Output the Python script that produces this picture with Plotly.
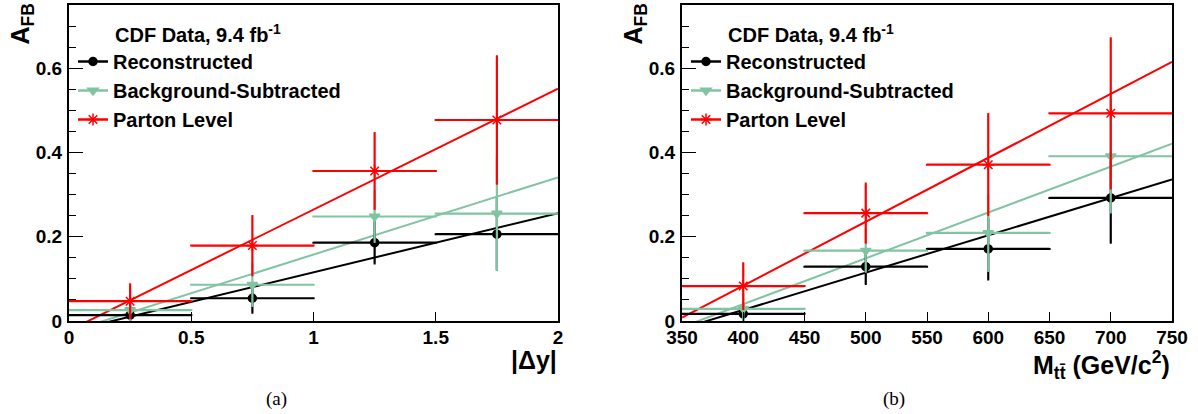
import plotly.graph_objects as go

W, H = 1198, 414

# ---------------- Panel (a): A_FB vs |Delta y| ----------------
dy_centers = [0.25, 0.75, 1.25, 1.75]
dy_halfwidth = [0.25, 0.25, 0.25, 0.25]
dy_reco = [0.014, 0.054, 0.186, 0.206]
dy_reco_err = [0.02, 0.034, 0.049, 0.085]
dy_bkg = [0.026, 0.086, 0.248, 0.255]
dy_bkg_err = [0.035, 0.05, 0.06, 0.134]
dy_parton = [0.047, 0.179, 0.356, 0.477]
dy_parton_err = [0.04, 0.07, 0.09, 0.151]
# linear fits: [slope, intercept]
dy_fit_reco = [0.1404, -0.0248]
dy_fit_bkg = [0.1833, -0.0256]
dy_fit_parton = [0.2871, -0.0226]
dy_range = [0, 2]
dy_ticks = [0, 0.5, 1, 1.5, 2]
dy_ticklabels = ["0", "0.5", "1", "1.5", "2"]

# ---------------- Panel (b): A_FB vs M_ttbar ----------------
m_centers = [400, 500, 600, 700]
m_halfwidth = [50, 50, 50, 50]
m_reco = [0.017, 0.129, 0.171, 0.292]
m_reco_err = [0.02, 0.041, 0.072, 0.106]
m_bkg = [0.029, 0.167, 0.209, 0.391]
m_bkg_err = [0.035, 0.05, 0.09, 0.133]
m_parton = [0.083, 0.256, 0.371, 0.493]
m_parton_err = [0.054, 0.07, 0.12, 0.178]
m_fit_reco = [0.000885, -0.3277]
m_fit_bkg = [0.001088, -0.3952]
m_fit_parton = [0.0015175, -0.5231]
m_range = [350, 750]
m_ticks = [350, 400, 450, 500, 550, 600, 650, 700, 750]
m_ticklabels = ["350", "400", "450", "500", "550", "600", "650", "700", "750"]

y_range = [0, 0.75]
y_ticks = [0, 0.2, 0.4, 0.6]
y_ticklabels = ["0", "0.2", "0.4", "0.6"]

series_names = ["Reconstructed", "Background-Subtracted", "Parton Level"]
BLACK = "#000000"
GREEN = "#80c4a2"
RED = "#ff0000"
colors = [BLACK, GREEN, RED]
symbols = ["circle", "triangle-down", "asterisk-open"]
msizes = [8, 9, 10]

FONT = "Liberation Sans"

fig = go.Figure()


def add_panel(xax, yax, legend_name, centers, halfw, vals, errs, fits, xr):
    for i in range(3):
        s, b = fits[i]
        fig.add_trace(go.Scatter(
            x=xr, y=[s * xr[0] + b, s * xr[1] + b], mode="lines",
            line=dict(color=colors[i], width=2), showlegend=False,
            xaxis=xax, yaxis=yax, hoverinfo="skip"))
    for i in range(3):
        fig.add_trace(go.Scatter(
            x=centers, y=vals[i], mode="markers",
            marker=dict(symbol=symbols[i], size=msizes[i], color=colors[i],
                        line=dict(color=colors[i], width=1.5)),
            error_x=dict(type="data", array=halfw, color=colors[i], thickness=2.2, width=1),
            error_y=dict(type="data", array=errs[i], color=colors[i], thickness=2.2, width=1),
            showlegend=False, xaxis=xax, yaxis=yax))
    # legend-only entries
    for i in range(3):
        fig.add_trace(go.Scatter(
            x=[None], y=[None], mode="lines+markers", name=series_names[i],
            line=dict(color=colors[i], width=2.5),
            marker=dict(symbol=symbols[i], size=msizes[i], color=colors[i],
                        line=dict(color=colors[i], width=1.5)),
            legend=legend_name, legendgroup=legend_name + str(i),
            xaxis=xax, yaxis=yax))


add_panel("x", "y", "legend", dy_centers, dy_halfwidth,
          [dy_reco, dy_bkg, dy_parton], [dy_reco_err, dy_bkg_err, dy_parton_err],
          [dy_fit_reco, dy_fit_bkg, dy_fit_parton], dy_range)
add_panel("x2", "y2", "legend2", m_centers, m_halfwidth,
          [m_reco, m_bkg, m_parton], [m_reco_err, m_bkg_err, m_parton_err],
          [m_fit_reco, m_fit_bkg, m_fit_parton], m_range)

# geometry
ax_left = [69, 558]
ax_right = [682, 1172]
y_top, y_bot = 5, 321
ydom = [(H - y_bot) / H, (H - y_top) / H]

tickfont = dict(family=FONT, size=19, color="black", weight="bold")

xcommon = dict(showline=True, mirror=True, linecolor="black", linewidth=2,
               ticks="inside", ticklen=9, tickwidth=1, tickcolor="black",
               showgrid=False, zeroline=False, tickfont=tickfont,
               ticklabelstandoff=-2, automargin=False)
ycommon = dict(showline=True, mirror=True, linecolor="black", linewidth=2,
               ticks="inside", ticklen=14, tickwidth=1, tickcolor="black",
               showgrid=False, zeroline=False, tickfont=tickfont,
               range=y_range, tickvals=y_ticks, ticktext=y_ticklabels,
               minor=dict(dtick=0.05, ticks="inside", ticklen=7, tickcolor="black", tickwidth=1),
               ticklabelstandoff=1, automargin=False)

fig.update_layout(
    template="none",
    width=W, height=H,
    margin=dict(l=0, r=0, t=0, b=0, pad=0),
    paper_bgcolor="white", plot_bgcolor="white",
    xaxis=dict(domain=[ax_left[0] / W, ax_left[1] / W], range=dy_range,
               tickvals=dy_ticks, ticktext=dy_ticklabels, anchor="y", **xcommon),
    yaxis=dict(domain=ydom, anchor="x", **ycommon),
    xaxis2=dict(domain=[ax_right[0] / W, ax_right[1] / W], range=m_range,
                tickvals=m_ticks, ticktext=m_ticklabels, anchor="y2", **xcommon),
    yaxis2=dict(domain=ydom, anchor="x2", **ycommon),
    showlegend=True,
)

legfont = dict(family=FONT, size=20, color="black", weight="bold")
for name, x0 in [("legend", 73), ("legend2", 73 + 613)]:
    fig.update_layout({name: dict(x=x0 / W, y=1 - 42 / H, xanchor="left", yanchor="top",
                                  bgcolor="rgba(0,0,0,0)", borderwidth=0, font=legfont,
                                  tracegroupgap=0, itemclick=False, itemdoubleclick=False)})

ann = []
for off, cap, cx in [(0, "(a)", 276), (613, "(b)", 894)]:
    ann.append(dict(text="<b>CDF Data, 9.4 fb<sup>-1</sup></b>", x=(113 + off) / W, y=1 - 33 / H,
                    xref="paper", yref="paper", xanchor="left", yanchor="middle",
                    showarrow=False, font=dict(family=FONT, size=20, color="black")))
    ann.append(dict(text="<b>A<sub>FB</sub></b>", x=(21 + off) / W, y=1 - 2 / H,
                    xref="paper", yref="paper", xanchor="center", yanchor="top", textangle=-90,
                    showarrow=False, font=dict(family=FONT, size=25, color="black")))
    ann.append(dict(text=cap, x=cx / W, y=1 - 399 / H, xref="paper", yref="paper",
                    xanchor="center", yanchor="middle", showarrow=False,
                    font=dict(family="Liberation Serif", size=19, color="black")))

ann.append(dict(text="<b>|\u0394y|</b>", x=559 / W, y=1 - 344 / H, xref="paper", yref="paper",
                xanchor="right", yanchor="top", showarrow=False,
                font=dict(family=FONT, size=25, color="black")))
ann.append(dict(text="<b>M<sub>tt\u0304</sub> (GeV/c<sup>2</sup>)</b>", x=1172 / W, y=1 - 345 / H,
                xref="paper", yref="paper", xanchor="right", yanchor="top", showarrow=False,
                font=dict(family=FONT, size=25, color="black")))
fig.update_layout(annotations=ann)

fig.write_html("out.html",
               config={"displayModeBar": False, "staticPlot": True},
               post_script="document.body.style.margin='0px';document.body.style.padding='0px';")
